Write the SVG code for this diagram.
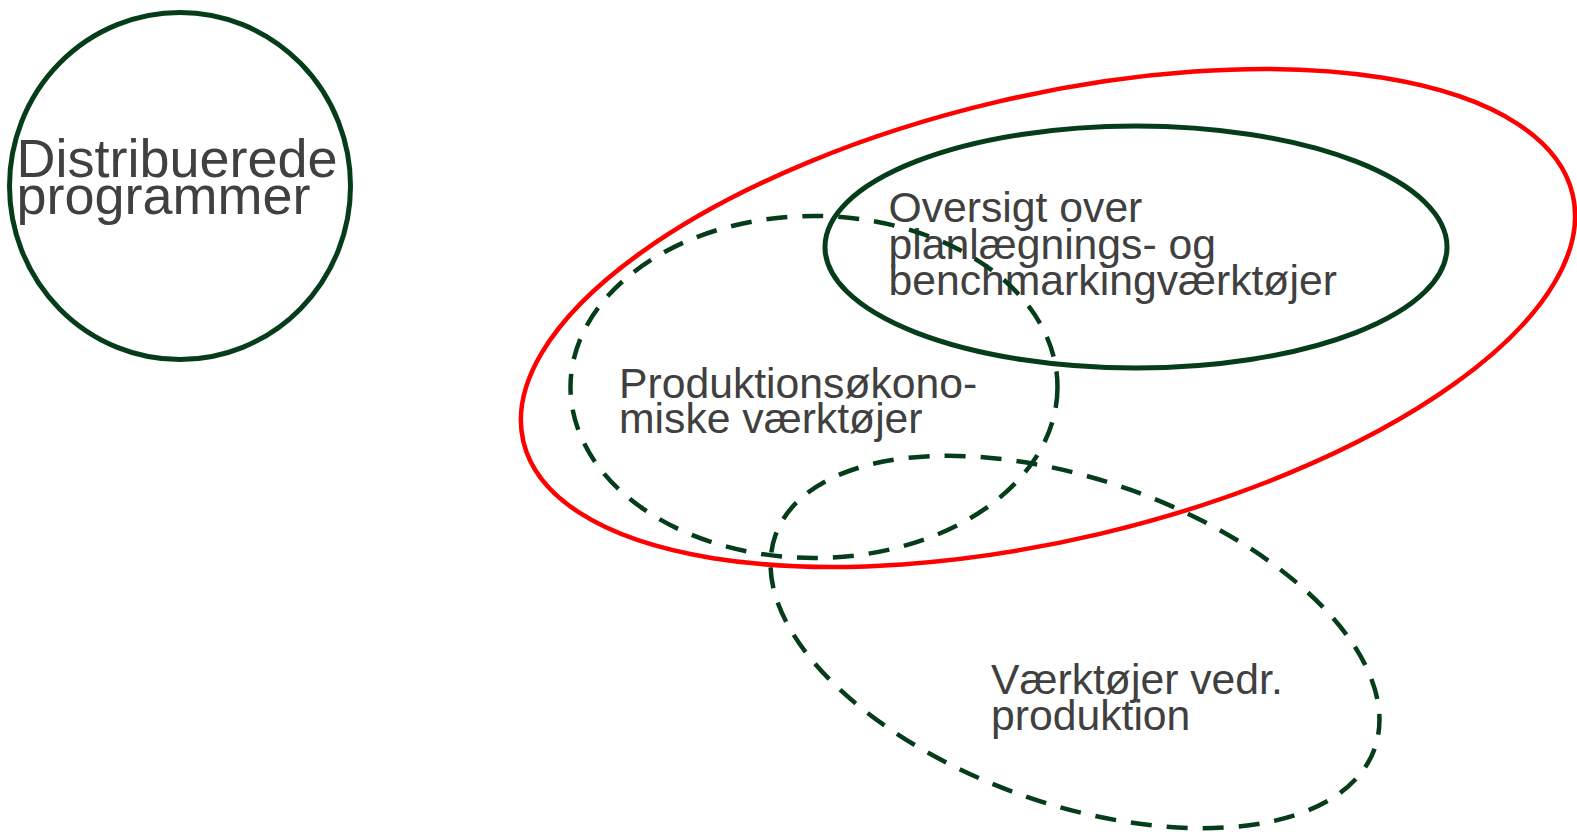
<svg xmlns="http://www.w3.org/2000/svg" width="1577" height="832" viewBox="0 0 1577 832">
<style>
.solid{fill:none;stroke:#053c1a;stroke-width:5}
.dash{fill:none;stroke:#053c1a;stroke-width:4.5;stroke-dasharray:21 15}
.red{fill:none;stroke:#ff0000;stroke-width:4.5}
.lbl{font-family:"Liberation Sans",Arial,sans-serif;fill:#404040}
</style>
<rect width="1577" height="832" fill="#ffffff"/>
<g id="distribuerede">
<ellipse class="solid" cx="180" cy="186" rx="170.5" ry="173.5"/>
<text class="lbl" font-size="54"><tspan x="16.5" y="177">Distribuerede</tspan><tspan x="16.5" y="214">programmer</tspan></text>
</g>
<g id="scope">
<ellipse class="red" cx="1048" cy="318" rx="539" ry="222" transform="rotate(-13.25 1048 318)"/>
</g>
<g id="oversigt">
<ellipse class="solid" cx="1136" cy="247" rx="311" ry="121"/>
<text class="lbl" font-size="42.7"><tspan x="888.5" y="222">Oversigt over</tspan><tspan x="888.5" y="258.5">planlægnings- og</tspan><tspan x="888.5" y="295">benchmarkingværktøjer</tspan></text>
</g>
<g id="produktionsokonomiske">
<ellipse class="dash" cx="814" cy="387" rx="243.5" ry="171"/>
<text class="lbl" font-size="42.7"><tspan x="619" y="398">Produktionsøkono-</tspan><tspan x="619" y="432.5">miske værktøjer</tspan></text>
</g>
<g id="produktion">
<ellipse class="dash" cx="1075" cy="642" rx="318" ry="162" transform="rotate(19.6 1075 642)"/>
<text class="lbl" font-size="42.7"><tspan x="991" y="694">Værktøjer vedr.</tspan><tspan x="991" y="730">produktion</tspan></text>
</g>
<g id="connectors"/>
</svg>
